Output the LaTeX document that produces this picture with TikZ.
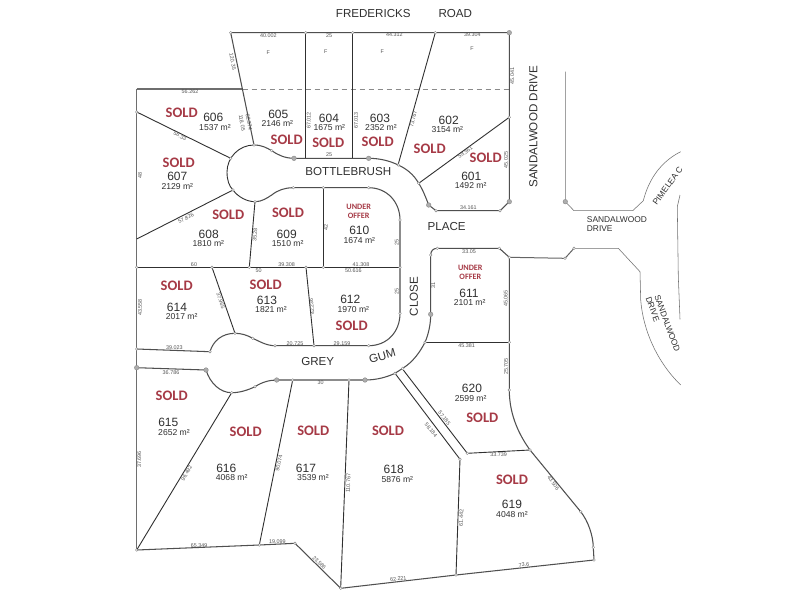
\documentclass[tikz,border=0pt]{standalone}
\usepackage{fontspec}
\setmainfont{Liberation Sans}
\newfontfamily\soldfont{Carlito}
\definecolor{ink}{HTML}{303030}
\definecolor{soldred}{HTML}{A63A46}
\definecolor{streetgray}{HTML}{707070}
\definecolor{dimgray}{HTML}{555555}
\definecolor{dotgray}{HTML}{8A8A8A}
\tikzset{
  lotline/.style={draw=ink,line width=0.9pt,line join=round},
  boundary/.style={draw=ink!85,line width=1.05pt,line join=round},
  edgeline/.style={draw=ink!70,line width=1.4pt,line join=round},
  streetline/.style={draw=streetgray,line width=0.55pt,line join=round},
  lotnum/.style={inner sep=0pt,font=\fontsize{12}{12}\selectfont,text=ink},
  lotarea/.style={inner sep=0pt,font=\fontsize{8.6}{9}\selectfont,text=ink},
  soldtag/.style={inner sep=0pt,font=\soldfont\bfseries\fontsize{14.5}{15}\selectfont,text=soldred},
  offertag/.style={inner sep=0pt,align=center,font=\soldfont\bfseries\fontsize{8.2}{8.7}\selectfont,text=soldred},
  dimtag/.style={inner sep=0pt,font=\fontsize{5.4}{6}\selectfont,text=dimgray},
  roadtag/.style={inner sep=0pt,font=\fontsize{11.6}{12}\selectfont,text=ink},
  smallroad/.style={inner sep=0pt,font=\fontsize{8.4}{9.4}\selectfont,text=ink},
  dotsmall/.style={circle,draw=dotgray,fill=white,line width=0.4pt,minimum size=2.6pt,inner sep=0pt},
  dotbig/.style={circle,draw=dotgray,fill=dotgray!70,line width=0.4pt,minimum size=4.6pt,inner sep=0pt},
}
\begin{document}
\begin{tikzpicture}[x=1pt,y=-1pt]
\useasboundingbox (0,0) rectangle (800,600);
\fill[white] (0,0) rectangle (800,600);

% main vertices
\coordinate (tl) at (230.7,32.7);
\coordinate (tr) at (509.3,32.7);
\coordinate (dl) at (136.7,89);
\coordinate (dm) at (242.7,89);
\coordinate (dr) at (509.3,89);
\coordinate (bulbA) at (254,145);
\coordinate (bulbB) at (233,190);
\coordinate (bulbC) at (255,201.7);
\coordinate (bulbL) at (230.7,158.3);
\coordinate (sw) at (136.7,550);
\coordinate (lbA) at (235,333.3);
\coordinate (lbB) at (231.7,392.7);

% Frederick's road frontage and dashed line
\draw[edgeline] (dl) -- (dm);
\draw[draw=dotgray,line width=0.9pt,dash pattern=on 5pt off 4pt] (dm) -- (dr);

% upper lots perimeter
\draw[boundary] (bulbA) .. controls (262,145) and (267,148) .. (271.7,150.7)
  .. controls (278,155) and (285,158.3) .. (294,158.3) -- (368.7,158.3)
  .. controls (380,158.3) and (390,161) .. (398.3,165)
  .. controls (407,169) and (414,175) .. (418.7,183.3)
  .. controls (423,190) and (426,198) .. (428.7,205)
  -- (436,210.7) -- (500,210.7) -- (509.3,201.7) -- (tr) -- (tl) -- (bulbA);
\draw[lotline] (bulbA) .. controls (239,145) and (227,157.5) .. (227,172)
  .. controls (227,180) and (229,186) .. (bulbB)
  .. controls (238,197) and (247,201.7) .. (bulbC);

% central block
\draw[boundary] (bulbC) .. controls (262,201.7) and (267,198) .. (271.7,195)
  .. controls (278,190) and (285,187.7) .. (293.3,187.7) -- (368.7,187.7)
  .. controls (387,187.7) and (400,202) .. (400,220) -- (400,313.3)
  .. controls (400,332) and (387,345.7) .. (368.7,345.7) -- (275,345.7)
  .. controls (266,345.7) and (259,341) .. (252.7,338.3)
  .. controls (247,335) and (241,333.3) .. (lbA)
  .. controls (222,333.3) and (213,341) .. (210,351.7) -- (136.7,349);

% outer lower perimeter
\draw[boundary] (136.7,367.7) -- (206,370)
  .. controls (210,383) and (220,392.7) .. (lbB)
  .. controls (240,392.7) and (248,390) .. (255,386.7)
  .. controls (262,382) and (270,380) .. (276.7,380) -- (365,380)
  .. controls (377,380) and (387,377) .. (395,373.3) -- (402.7,368.3)
  .. controls (413,362) and (420,352) .. (425,342.3)
  .. controls (429,333) and (430.7,323) .. (430.7,314.3) -- (430.7,255)
  .. controls (430.7,251) and (433,248.3) .. (437.3,248.3) -- (499.3,248.3)
  -- (509.3,257.3) -- (509.3,390)
  .. controls (509.3,412) and (517,432) .. (530,450) -- (580.7,511.7)
  .. controls (588,521) and (593,535) .. (593.3,547.3) -- (594,560)
  -- (456,575) -- (340.7,588.3) -- (295,543.3) -- (259.3,545) -- (sw);
\draw[edgeline] (sw) -- (dl);

% lot divisions
\draw[lotline] (305.7,32.7) -- (305.7,158.3);
\draw[lotline] (352.7,32.7) -- (352.7,158.3);
\draw[lotline] (435.3,32.7) -- (398.3,164);
\draw[lotline] (418.7,183.3) -- (509.3,117.3);
\draw[lotline] (136.7,112) -- (bulbL);
\draw[lotline] (136.7,239) -- (bulbB);
\draw[lotline] (bulbC) -- (249.3,267.3);
\draw[lotline] (323.3,187.7) -- (323.3,267.3);
\draw[lotline] (136.7,267.3) -- (400,267.3);
\draw[lotline] (212,267.3) -- (lbA);
\draw[lotline] (306,267.3) -- (314,345.7);
\draw[lotline] (425,342.3) -- (509.3,342.3);
\draw[lotline] (403.3,370) -- (467.3,453.3) -- (530,450);
\draw[lotline] (395,373.3) -- (460,459.3) -- (456,575);
\draw[lotline] (349,380) -- (340.7,587.3);
\draw[lotline] (292.7,380) -- (259.3,545);
\draw[lotline] (lbB) -- (sw);
\draw[draw=ink!75,line width=1pt,line join=round] (509.3,257.3) -- (565,258.3) -- (574,248.3);

% neighbouring streets
\draw[streetline] (574,248.3) -- (618.3,248.3) -- (640,271.7) -- (640.7,300)
  .. controls (643,330) and (657,362) .. (680.7,385);
\draw[streetline] (565.3,71.7) -- (565.3,201.7) -- (574,210.7) -- (632.7,210.7) -- (643.3,200.7)
  .. controls (649,178) and (662,161) .. (680.7,151.7);
\draw[streetline] (680,195) -- (677.3,206.7) -- (678.3,276.7) -- (680,319.3);

% vertex markers
\foreach \x/\y [count=\i] in {230.7/32.7,305.7/32.7,352.7/32.7,435.3/32.7,136.7/112,254/145,271.7/150.7,
  398.3/165,418.7/183.3,509.3/117.3,436/210.7,500/210.7,230.7/158.3,233/190,255/201.7,293.3/187.7,
  323.3/187.7,368.7/187.7,400/220,400/267.3,400/313.3,136.7/267.3,212/267.3,249.3/267.3,306/267.3,
  323.3/267.3,368.7/345.7,314/345.7,275/345.7,252.7/338.3,235/333.3,210/351.7,136.7/349,
  255/386.7,231.7/392.7,292.7/380,349/380,395/373.3,402.7/368.3,425/342.3,430.7/255,437.3/248.3,
  499.3/248.3,509.3/257.3,509.3/342.3,509.3/390,530/450,467.3/453.3,460/459.3,580.7/511.7,
  593.3/547.3,594/560,456/575,340.7/588.3,295/543.3,259.3/545,136.7/550,574/248.3,565/258.3}
  \node[dotsmall] (vs\i) at (\x,\y) {};
\foreach \x/\y [count=\i] in {509.3/32.7,294/158.3,368.7/158.3,428.7/205,509.3/201.7,136.7/367.7,206/370,
  276.7/380,365/380,430.7/314.3,565.3/201.7}
  \node[dotbig] (vb\i) at (\x,\y) {};

% lot numbers
\foreach \x/\y/\t [count=\i] in {471.3/176.7/601,448.7/120.7/602,380/118.7/603,329/118.7/604,278.3/114.3/605,
  213.3/117.3/606,177.3/176.7/607,208.7/234.3/608,286.7/234.3/609,359.3/230.7/610,469/293.3/611,
  350.3/299.3/612,267/300.7/613,177/307/614,168.3/422.3/615,226.3/468/616,306/468/617,393.7/469.3/618,
  512/504/619,472/388.3/620}
  \node[lotnum] (num\i) at (\x,\y) {\t};
% lot areas
\foreach \x/\y/\t [count=\i] in {470.7/186/1492,447.3/129.7/3154,381/128/2352,329.3/128/1675,277.3/123.3/2146,
  215/127.3/1537,177.3/187/2129,208.3/244/1810,287.7/243.3/1510,359.3/240.3/1674,469.7/303/2101,
  353.3/309.3/1970,271/309.7/1821,181.7/316.7/2017,174/432.7/2652,231.7/477.7/4068,313/477.3/3539,
  397.3/480/5876,512/514.3/4048,470.7/399/2599}
  \node[lotarea] (area\i) at (\x,\y) {\t{} m²};
% sold tags
\foreach \x/\y [count=\i] in {485.7/157.7,429.7/149,377.7/141.3,328.3/142.3,286.7/140,181.7/112.7,178.7/162.3,
  228.3/215,288/212.7,351.7/325.7,265.7/284.7,176.7/285.3,171.7/395.3,245.7/432,313.3/430.7,388/430.7,
  512/479.7,482.3/418}
  \node[soldtag] (sold\i) at (\x,\y) {SOLD};
\node[offertag] (offerA) at (358.7,211.4) {UNDER\\OFFER};
\node[offertag] (offerB) at (470.3,272.5) {UNDER\\OFFER};

% front-lot markers
\foreach \x/\y [count=\i] in {268.3/52.7,325.7/51.7,382.3/51.7,472/49}
  \node[dimtag] (front\i) at (\x,\y) {F};

% dimensions
\foreach \x/\y/\r/\t [count=\i] in {
  268.3/35.3/0/40.002, 329/35.3/0/25, 394.3/35/0/44.312, 472.3/35/0/39.304,
  232.7/61.7/-80/120.35, 190/92/0/56.262, 180/136/-27/58.33, 140/175.3/90/48,
  242/123/-80/118.05, 249/122/-80/62.374, 308.7/120.7/90/67.012, 356/120.7/90/67.013, 329/155/0/25,
  413.3/119.3/76/73.767, 465.3/152.3/36/59.361, 512.3/76/90/45.041, 506/160/90/45.025, 468.3/208/0/34.161,
  186/218.3/27/57.826, 255/235/86/35.28, 326/227.7/90/42, 396.7/242.7/90/25,
  194/264.3/0/60, 286.7/264.3/0/39.308, 361/264.7/0/41.308, 258.7/270.3/0/50, 353.3/270.3/0/50.616,
  396.7/291/90/25, 220.7/300.7/-71/37.965, 311.7/306.7/95/42.236, 140/307.3/90/43.558,
  174.3/348/0/39.023, 295/343.3/0/20.725, 342/343.3/0/29.159, 171/372.3/0/36.786, 320.7/382.7/0/30,
  469/252/0/33.05, 433.3/285.3/90/31, 505.7/298.3/90/45.065, 466.7/345.7/0/45.381, 506/366.7/90/25.705,
  444.3/418/-52/57.185, 431/430/-52/58.184, 498.7/455/0/33.739,
  139.3/459.3/90/37.696, 186.7/473.3/60/96.492, 279/463.3/78/90.074, 199/545.7/2/65.349, 277.3/542/0/19.099,
  319.3/562.7/-45/23.586, 348.3/483.3/88/110.767, 461.3/517.7/88/61.442, 398.3/578.7/6/62.221,
  524/564.7/5/73.6, 553.3/482.7/-55/43.506}
  \node[dimtag,rotate=\r] (dim\i) at (\x,\y) {\t};

% road names
\node[roadtag] (rF) at (373.3,14) {FREDERICKS};
\node[roadtag] (rR) at (455.3,14) {ROAD};
\node[roadtag,rotate=90] (rS) at (533.3,126.7) {SANDALWOOD DRIVE};
\node[roadtag] (rB) at (348.3,171.3) {BOTTLEBRUSH};
\node[roadtag] (rP) at (446.7,226.7) {PLACE};
\node[roadtag,rotate=90] (rC) at (414,296.7) {CLOSE};
\node[roadtag] (rG) at (317.7,361.3) {GREY};
\node[roadtag,rotate=16] (rU) at (382.3,356) {GUM};
\node[smallroad,align=left,anchor=north west] (rD) at (586.7,216.4) {SANDALWOOD\\DRIVE};
\node[smallroad,rotate=-70] (rE) at (667.3,323.3) {SANDALWOOD};
\node[smallroad,rotate=-70] (rH) at (652.7,309.3) {DRIVE};
\begin{scope}
  \clip (0,0) rectangle (681,600);
  \node[smallroad,rotate=54,anchor=west] (rI) at (654.5,204) {PIMELEA C};
\end{scope}
\end{tikzpicture}
\end{document}
